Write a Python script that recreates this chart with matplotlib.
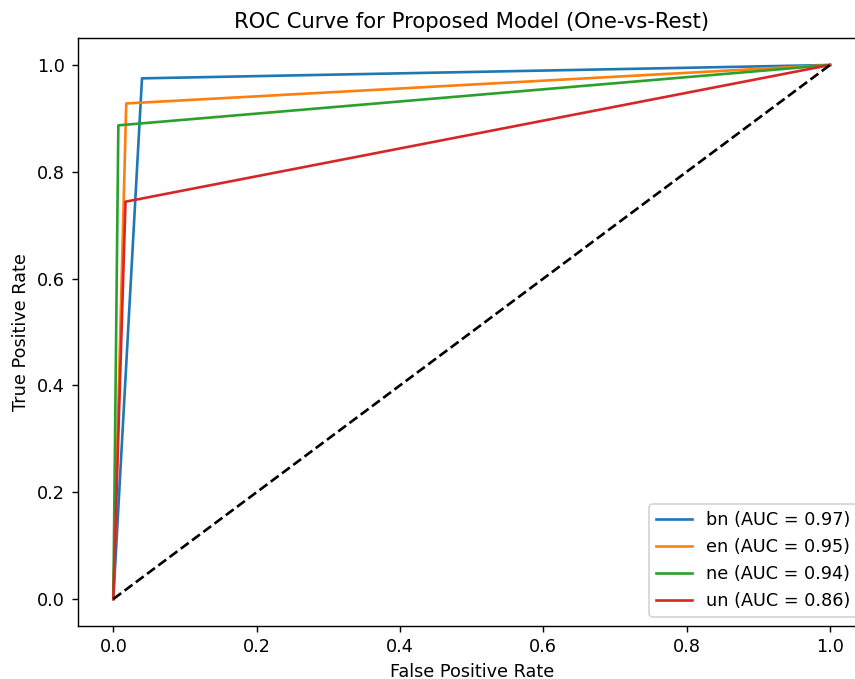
import matplotlib
matplotlib.use("Agg")
import matplotlib.pyplot as plt

# one-vs-rest ROC points
classes = ["bn", "en", "ne", "un"]
fpr = {
    "bn": [0.0, 0.040, 1.0],
    "en": [0.0, 0.018, 1.0],
    "ne": [0.0, 0.007, 1.0],
    "un": [0.0, 0.017, 1.0],
}
tpr = {
    "bn": [0.0, 0.975, 1.0],
    "en": [0.0, 0.928, 1.0],
    "ne": [0.0, 0.887, 1.0],
    "un": [0.0, 0.744, 1.0],
}
auc = {"bn": 0.97, "en": 0.95, "ne": 0.94, "un": 0.86}

dpi = 127
fig = plt.figure(figsize=(855 / dpi, 679 / dpi), dpi=dpi)
ax = fig.add_axes([77.5 / 855, 53.3 / 679, 788.3 / 855, 587.4 / 679])

for c in classes:
    ax.plot(fpr[c], tpr[c], label=f"{c} (AUC = {auc[c]:.2f})")

ax.plot([0, 1], [0, 1], "k--")

ax.set_title("ROC Curve for Proposed Model (One-vs-Rest)")
ax.set_xlabel("False Positive Rate")
ax.set_ylabel("True Positive Rate")
ax.legend(loc="lower right")

fig.savefig("out.png", dpi=dpi)
